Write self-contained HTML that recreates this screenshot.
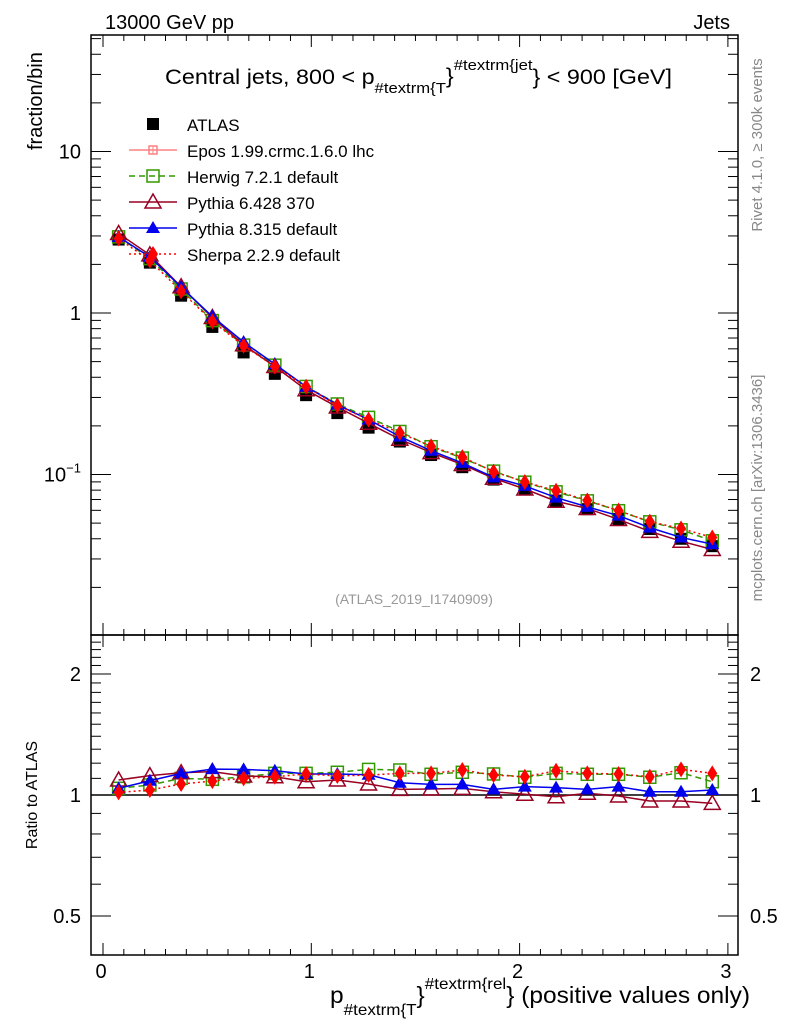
<!DOCTYPE html>
<html><head><meta charset="utf-8"><style>
body{margin:0;background:#fff;}
svg{font-family:"Liberation Sans",sans-serif;}
</style></head><body>
<svg id="c" width="786" height="1024" viewBox="0 0 786 1024" xmlns="http://www.w3.org/2000/svg">
<rect width="786" height="1024" fill="#fff"/>
<text x="105" y="29" font-size="20">13000 GeV pp</text>
<text x="730" y="29" font-size="20" text-anchor="end">Jets</text>
<text x="165" y="84" font-size="21" textLength="507" lengthAdjust="spacingAndGlyphs">Central jets, 800 &lt; p<tspan font-size="15" dy="9">#textrm{T</tspan><tspan dy="-10">}</tspan><tspan font-size="15" dy="-13">#textrm{jet</tspan><tspan dy="14">} &lt; 900 [GeV]</tspan></text>
<text transform="translate(762,145) rotate(-90)" font-size="15" fill="#888" text-anchor="middle">Rivet 4.1.0, ≥ 300k events</text>
<text transform="translate(762,488) rotate(-90)" font-size="15" fill="#888" text-anchor="middle">mcplots.cern.ch [arXiv:1306.3436]</text>
<text x="414" y="604" font-size="14" fill="#999" text-anchor="middle">(ATLAS_2019_I1740909)</text>
<text transform="translate(42,150) rotate(-90)" font-size="20" text-anchor="start">fraction/bin</text>
<text transform="translate(37,795) rotate(-90)" font-size="16" text-anchor="middle">Ratio to ATLAS</text>
<text x="330" y="1003" font-size="23" textLength="420" lengthAdjust="spacingAndGlyphs">p<tspan font-size="16" dy="12">#textrm{T</tspan><tspan dy="-12">}</tspan><tspan font-size="16" dy="-14">#textrm{rel</tspan><tspan dy="14">} (positive values only)</tspan></text>
<g id="axes"></g>
<g id="marks"></g>
<g id="legend"></g>
</svg>
<script>
const xCenters=[0.075,0.225,0.375,0.525,0.675,0.825,0.975,1.125,1.275,1.425,1.575,1.725,1.875,2.025,2.175,2.325,2.475,2.625,2.775,2.925];
const atlas=[2.85,2.05,1.28,0.82,0.57,0.42,0.31,0.24,0.195,0.16,0.132,0.111,0.093,0.081,0.069,0.061,0.053,0.046,0.040,0.036];
const ratioHerwig=[1.039,1.059,1.100,1.094,1.110,1.132,1.132,1.139,1.158,1.154,1.126,1.139,1.128,1.107,1.132,1.126,1.126,1.107,1.136,1.079];
const ratioPy6=[1.090,1.117,1.136,1.143,1.115,1.110,1.079,1.090,1.065,1.033,1.035,1.039,1.019,1.004,0.990,1.010,0.994,0.966,0.966,0.953];
const ratioPy8=[1.039,1.085,1.132,1.160,1.158,1.149,1.128,1.128,1.123,1.073,1.063,1.063,1.033,1.049,1.043,1.033,1.049,1.019,1.019,1.029];
const ratioSherpa=[1.015,1.029,1.065,1.083,1.100,1.110,1.128,1.115,1.121,1.132,1.132,1.154,1.121,1.110,1.149,1.132,1.128,1.110,1.158,1.132];
const xTicks=[0,1,2,3];
const yTickLabels=["10","1"];
const ratioTicks=[0.5,1,2];

const NS="http://www.w3.org/2000/svg";
const L=91,R=738,T=35,B=635,RB=955;
const X=v=>103+208.3*v;
const Y=v=>313-161.5*Math.log10(v);
const RY=v=>795-402*Math.log10(v);
function mk(tag,at,parent){const e=document.createElementNS(NS,tag);for(const k in at)e.setAttribute(k,at[k]);(parent||document.getElementById('marks')).appendChild(e);return e;}
const ax=document.getElementById('axes');
let f=mk('rect',{x:L,y:T,width:R-L,height:B-T,fill:'none',stroke:'#000','stroke-width':1.5},ax);


f=mk('rect',{x:L,y:B,width:R-L,height:RB-B,fill:'none',stroke:'#000','stroke-width':1.5},ax);


for(let v=0;v<=3.1;v+=0.1){const x=X(v);if(x>R)break;const maj=Math.abs(v-Math.round(v))<1e-6;const len=maj?12:6;
 mk('line',{x1:x,x2:x,y1:B,y2:B-len,stroke:'#000'},ax);mk('line',{x1:x,x2:x,y1:T,y2:T+len,stroke:'#000'},ax);
 mk('line',{x1:x,x2:x,y1:RB,y2:RB-len,stroke:'#000'},ax);mk('line',{x1:x,x2:x,y1:B,y2:B+len,stroke:'#000'},ax);}
xTicks.forEach(v=>{const t=mk('text',{x:X(v)-2,y:978,'font-size':20,'text-anchor':'middle'},ax);t.textContent=v;

});
for(let d=-2;d<=1;d++)for(let m=1;m<=9;m++){const v=m*Math.pow(10,d);const y=Y(v);if(y<T||y>B)continue;const len=m==1?20:10;
 mk('line',{x1:L,x2:L+len,y1:y,y2:y,stroke:'#000'},ax);mk('line',{x1:R,x2:R-len,y1:y,y2:y,stroke:'#000'},ax);}
yTickLabels.forEach(s=>{const t=mk('text',{x:81,y:Y(+s)+7,'font-size':20,'text-anchor':'end'},ax);t.textContent=s;

});
let t=mk('text',{x:81,y:Y(0.1)+7,'font-size':20,'text-anchor':'end'},ax);t.innerHTML='10<tspan font-size="13" dy="-9">−1</tspan>';


[0.4,0.5,0.6,0.7,0.8,0.9,1,2].forEach(v=>{const y=RY(v);const len=(v==0.5||v==1||v==2)?20:10;
 mk('line',{x1:L,x2:L+len,y1:y,y2:y,stroke:'#000'},ax);mk('line',{x1:R,x2:R-len,y1:y,y2:y,stroke:'#000'},ax);});
for(let v=1.1;v<2.5;v+=0.1){const y=RY(v);if(y<B)break;mk('line',{x1:L,x2:L+10,y1:y,y2:y,stroke:'#000'},ax);mk('line',{x1:R,x2:R-10,y1:y,y2:y,stroke:'#000'},ax);}
ratioTicks.forEach(v=>{let t=mk('text',{x:81,y:RY(v)+7,'font-size':20,'text-anchor':'end'},ax);t.textContent=v;


t=mk('text',{x:750,y:RY(v)+7,'font-size':20},ax);t.textContent=v;

});
mk('line',{x1:L,x2:R,y1:RY(1),y2:RY(1),stroke:'#000','stroke-width':1.5},ax);

function marker(type,x,y,col,g){
 if(type=='sq')return mk('rect',{x:x-6,y:y-6,width:12,height:12,fill:'none',stroke:col,'stroke-width':1.5},g);
 if(type=='otri')return mk('polygon',{points:`${x},${y-8} ${x-8},${y+6} ${x+8},${y+6}`,fill:'none',stroke:col,'stroke-width':1.5},g);
 if(type=='tri')return mk('polygon',{points:`${x},${y-7} ${x-7},${y+5} ${x+7},${y+5}`,fill:col},g);
 if(type=='dia')return mk('polygon',{points:`${x},${y-8} ${x-5},${y} ${x},${y+8} ${x+5},${y}`,fill:col},g);
 if(type=='box')return mk('rect',{x:x-6,y:y-6,width:12,height:12,fill:col},g);
 if(type=='cross'){const gg=mk('g',{},g);mk('rect',{x:x-4,y:y-4,width:8,height:8,fill:'none',stroke:col,'stroke-width':1.5},gg);mk('line',{x1:x,x2:x,y1:y-4,y2:y+4,stroke:col},gg);return gg;}
}
const series=[
 {name:'herwig',r:ratioHerwig,col:'#339900',m:'sq',dash:'6,4'},
 {name:'pythia6',r:ratioPy6,col:'#990022',m:'otri',dash:''},
 {name:'pythia8',r:ratioPy8,col:'#0000ee',m:'tri',dash:''},
 {name:'sherpa',r:ratioSherpa,col:'#ff0000',m:'dia',dash:'2,3'}];
const ga=mk('g',{});


series.forEach(s=>{
 const g=mk('g',{});
 
 
 const vals=atlas.map((a,i)=>a*s.r[i]);
 mk('polyline',{points:vals.map((v,i)=>X(xCenters[i])+','+Y(v)).join(' '),fill:'none',stroke:s.col,'stroke-width':1.5,'stroke-dasharray':s.dash},g);
 mk('polyline',{points:s.r.map((v,i)=>X(xCenters[i])+','+RY(v)).join(' '),fill:'none',stroke:s.col,'stroke-width':1.5,'stroke-dasharray':s.dash},g);
 vals.forEach((v,i)=>{const e=marker(s.m,X(xCenters[i]),Y(v),s.col,g);
 
 });
 s.r.forEach((v,i)=>{const e=marker(s.m,X(xCenters[i]),RY(v),s.col,g);
 
 });
});
atlas.forEach((v,i)=>{const e=marker('box',X(xCenters[i]),Y(v),'#000',ga);

});
const lg=document.getElementById('legend');
const items=[['ATLAS','box','#000',''],['Epos 1.99.crmc.1.6.0 lhc','cross','#ff8080',''],['Herwig 7.2.1 default','sq','#339900','6,4'],['Pythia 6.428 370','otri','#990022',''],['Pythia 8.315 default','tri','#0000ee',''],['Sherpa 2.2.9 default','dia','#ff0000','2,3']];
items.forEach((it,i)=>{const y=124+26*i;const g=mk('g',{},lg);
 
 
 if(i>0)mk('line',{x1:129,x2:177,y1:y,y2:y,stroke:it[2],'stroke-width':1.5,'stroke-dasharray':it[3]},g);
 marker(it[1],153,y,it[2],g);
 const t=mk('text',{x:187,y:y+7,'font-size':17},g);t.textContent=it[0];});
</script>
</body></html>
